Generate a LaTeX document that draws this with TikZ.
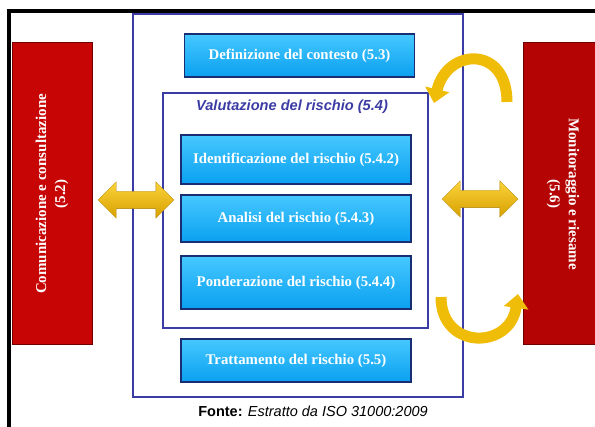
\documentclass[tikz,border=0pt]{standalone}
\usepackage{fontspec}
\setmainfont{Liberation Serif}
\setsansfont{Liberation Sans}
\usepackage{tikz}
\usetikzlibrary{arrows.meta}
\usetikzlibrary{shapes.arrows}

\definecolor{azzurro}{RGB}{10,160,240}
\definecolor{azzurrochiaro}{RGB}{70,200,255}
\definecolor{navy}{RGB}{25,45,115}
\definecolor{rosso}{RGB}{200,5,5}
\definecolor{rossoscuro}{RGB}{110,0,0}
\definecolor{cornice}{RGB}{60,60,165}
\definecolor{oro}{RGB}{250,200,10}
\definecolor{oroscuro}{RGB}{215,160,0}

\begin{document}
\begin{tikzpicture}[x=1pt, y=-1pt,
	blu/.style={rectangle, draw=navy, line width=1.5pt, top color=azzurrochiaro, bottom color=azzurro, text=white, font=\bfseries\fontsize{14.8}{16}\selectfont, minimum width=230pt, inner sep=0pt},
	rossa/.style={rectangle, draw=rossoscuro, line width=1pt, fill=rosso, text=white, font=\bfseries\fontsize{15}{19}\selectfont, align=center, minimum width=302pt, minimum height=80pt, inner sep=0pt},
	riquadro/.style={rectangle, draw=cornice, line width=1.2pt, inner sep=0pt},
	freccia/.style={double arrow, top color=oro!80!white, bottom color=oroscuro, draw=oroscuro!80!black, line width=0.3pt, minimum height=76pt, inner xsep=0pt, inner ysep=8.5pt, double arrow head extend=9.5pt},
	curva/.style={draw=oro!70!oroscuro, line width=11pt, -{Triangle[width=24pt, length=14pt]}}]

\useasboundingbox (0,0) rectangle (595,427);
% cornice esterna
\draw[line width=3.5pt] (9,427) -- (9,11) -- (595,11);

% riquadri del processo
\node[riquadro, minimum width=330pt, minimum height=383pt] (processo) at (298,205.5) {};
\node[riquadro, minimum width=265pt, minimum height=235pt] (valut) at (295.5,210.5) {};
\node[text=cornice, font=\sffamily\bfseries\itshape\fontsize{14.6}{16}\selectfont] (valutlab) at (292,107) {Valutazione del rischio (5.4)};

\node[blu, minimum height=43pt] (contesto) at (299.5,55.5) {Definizione del contesto (5.3)};
\node[blu, minimum height=49pt] (identif) at (296,159.5) {Identificazione del rischio (5.4.2)};
\node[blu, minimum height=47pt] (analisi) at (296,218.5) {Analisi del rischio (5.4.3)};
\node[blu, minimum height=53pt] (ponder) at (296,282.5) {Ponderazione del rischio (5.4.4)};
\node[blu, minimum height=43pt] (tratt) at (296,360.5) {Trattamento del rischio (5.5)};

% colonne laterali
\node[rossa, rotate=90] (comunic) at (52,194) {Comunicazione e consultazione\\(5.2)};
\node[rossa, rotate=-90, fill=rosso!90!black] (monitor) at (563,194) {Monitoraggio e riesame\\(5.6)};

% frecce
\node[freccia] (frsx) at (136,200) {};
\node[freccia] (frdx) at (480,199) {};
\coordinate (altoda) at (507,102);
\coordinate (altoa) at (434,103);
\coordinate (bassoda) at (441,297);
\coordinate (bassoa) at (518,294);
\draw[curva] (altoda) .. controls (507,45) and (447,48) .. (altoa);
\draw[curva] (bassoda) .. controls (441,350) and (510,350) .. (bassoa);

\node[font=\sffamily\fontsize{14.5}{16}\selectfont] (fonte) at (313,411) {\textbf{Fonte:} \textit{Estratto da ISO 31000:2009}};
\end{tikzpicture}
\end{document}
